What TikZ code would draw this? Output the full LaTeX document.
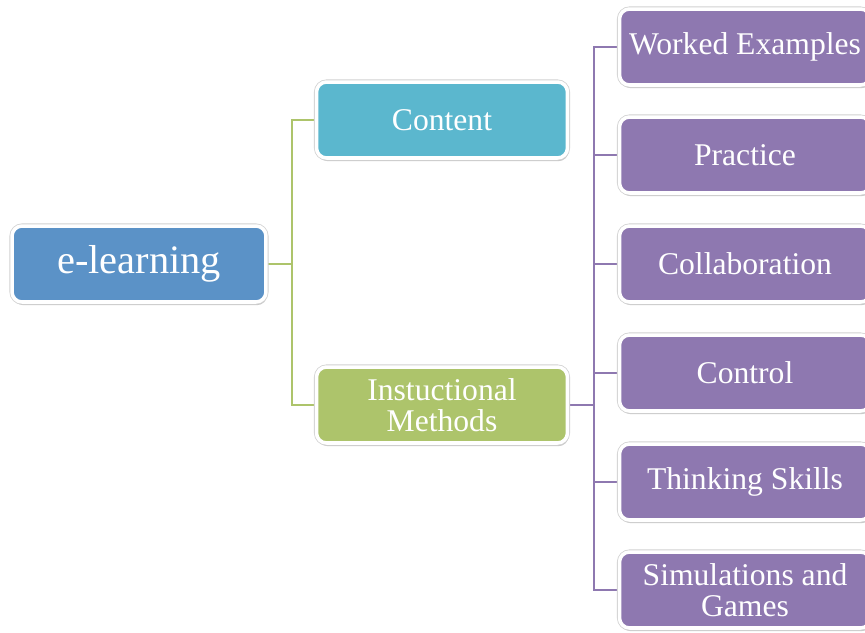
\documentclass[tikz,border=0pt]{standalone}
\usepackage{fontspec}
\setmainfont{Liberation Serif}
\usepackage{tikz}
\usetikzlibrary{positioning,calc,shadows,backgrounds}
\definecolor{rootBlue}{RGB}{91,146,199}
\definecolor{contentCyan}{RGB}{91,183,206}
\definecolor{methodGreen}{RGB}{173,196,107}
\definecolor{itemPurple}{RGB}{142,120,176}

\begin{document}
\begin{tikzpicture}[x=0.02cm,y=-0.02cm,
    box/.style={draw=white, line width=2pt, rounded corners=5.7pt, text=white,
        align=center, minimum width=5.02cm, minimum height=1.52cm,
        drop shadow={shadow xshift=0.6pt, shadow yshift=-1.8pt, opacity=.3, fill=black!70},
        preaction={draw=black!18, line width=2.9pt}},
    rootbox/.style={box, fill=rootBlue, minimum width=5.08cm, font=\fontsize{23}{26}\selectfont},
    subbox/.style={box, font=\fontsize{18}{17.5}\selectfont},
    greenline/.style={draw=methodGreen, line width=1.35pt},
    purpleline/.style={draw=itemPurple, line width=1.35pt}]
    \clip (0,0) rectangle (865,632);

    % main topic and first level
    \node[rootbox] (elearn) at (139,264) {e-learning};
    \node[subbox, fill=contentCyan] (content) at (442,120) {Content};
    \node[subbox, fill=methodGreen] (methods) at (442,405) {Instuctional\\Methods};

    % second level
    \foreach \name/\ypos/\txt in {worked/47/{Worked Examples}, practice/155/{Practice},
        collab/264/{Collaboration}, control/373/{Control}, thinking/482/{Thinking Skills},
        simgames/590/{Simulations and\\Games}}
        \node[subbox, fill=itemPurple] (\name) at (745,\ypos) {\txt};

    \begin{scope}[on background layer]
        \draw[greenline] (elearn.east) -- ++(24,0) |- (content.west);
        \draw[greenline] (elearn.east) -- ++(24,0) |- (methods.west);
        \foreach \name in {worked,practice,collab,control,thinking,simgames}
            \draw[purpleline] (methods.east) -- ++(25,0) |- (\name.west);
    \end{scope}
\end{tikzpicture}
\end{document}
